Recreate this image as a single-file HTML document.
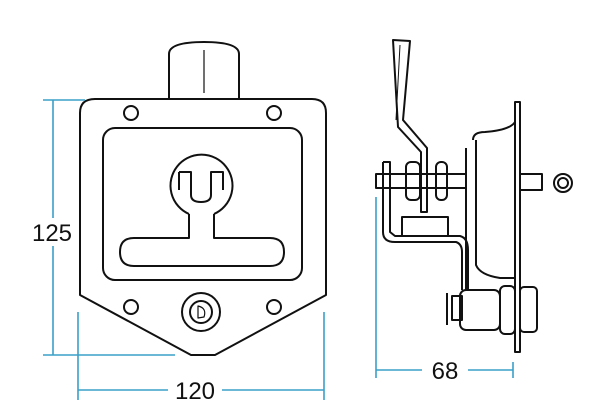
<!DOCTYPE html>
<html><head><style>html,body{margin:0;padding:0;background:#fff}svg{display:block}</style></head><body>
<svg width="600" height="408" viewBox="0 0 600 408" xmlns="http://www.w3.org/2000/svg">
<g fill="none" stroke="#111" stroke-width="2" stroke-linejoin="round">
<!-- left view -->
<path d="M169 100 V54 Q169 42 204 42 Q239 42 239 54 V100"/>
<line x1="204" y1="50" x2="204" y2="93" stroke-width="1.2"/>
<path d="M95 99 H312 Q326 99 326 113 V295 L215 355 H191 L80 295 V113 Q80 99 95 99 Z"/>
<circle cx="131" cy="113" r="7"/><circle cx="274" cy="113" r="7"/>
<circle cx="131" cy="307" r="7"/><circle cx="274" cy="307" r="7"/>
<rect x="103" y="128" width="199" height="152" rx="12"/>
<path d="M189 214 A31 31 0 1 1 214 214"/>
<path d="M179 172 H191 V195 Q191 202 201 202 Q211 202 211 195 V172 H223 V190"/>
<path d="M179 172 V190"/>
<path d="M189 214 V238 H134 Q120 238 120 252 Q120 266 134 266 H270 Q284 266 284 252 Q284 238 270 238 H214 V214"/>
<circle cx="201" cy="312" r="19"/><circle cx="201" cy="312" r="11"/>
<path d="M198 306 Q207 308 204 317 L198 318 Z" stroke-width="1.2"/>
<!-- right view -->
<rect x="515" y="102" width="5" height="250"/>
<path d="M393 40 L410 41 L403 120 L427 148 V212 H421 V152 L398 127 Z"/>
<line x1="400" y1="45" x2="396" y2="120" stroke-width="1"/>
<rect x="406" y="162" width="14" height="38" rx="5"/>
<rect x="436" y="162" width="11" height="38" rx="5"/>
<rect x="376" y="174" width="90" height="14"/>
<path d="M383 162 H390 V232 L395 236 H460 Q468 238 468 250 V290"/>
<path d="M383 162 V232 Q383 242 395 242 H456 Q462 244 462 252 V290"/>
<rect x="402" y="217" width="46" height="19"/>
<path d="M466 148 V290"/>
<path d="M473 140 Q473 132 485 132 Q510 130 515 122 V290"/>
<path d="M476 140 V265 Q480 275 500 278 H515"/>
<rect x="520" y="174" width="22" height="16"/>
<circle cx="563" cy="183" r="9"/><circle cx="563" cy="183" r="5"/>
<rect x="460" y="290" width="40" height="40" rx="6"/>
<rect x="500" y="286" width="15" height="48" rx="5"/>
<rect x="520" y="287" width="17" height="45" rx="4"/>
<path d="M452 296 H462 V320 H452 Z M447 293 V325"/>
</g>
<g stroke="#3aa0c8" stroke-width="1.6" fill="none">
<line x1="53" y1="100" x2="53" y2="218"/><line x1="53" y1="246" x2="53" y2="355"/>
<line x1="43" y1="100" x2="85" y2="100"/><line x1="43" y1="355" x2="175" y2="355"/>
<line x1="78" y1="312" x2="78" y2="400"/><line x1="324" y1="312" x2="324" y2="400"/>
<line x1="78" y1="390" x2="168" y2="390"/><line x1="222" y1="390" x2="324" y2="390"/>
<line x1="376" y1="197" x2="376" y2="378"/><line x1="513" y1="362" x2="513" y2="378"/>
<line x1="376" y1="370" x2="422" y2="370"/><line x1="468" y1="370" x2="513" y2="370"/>
</g>
<g font-family="Liberation Sans, sans-serif" font-size="24" fill="#111" text-anchor="middle">
<text x="52" y="241">125</text>
<text x="195" y="399">120</text>
<text x="445" y="379">68</text>
</g>
</svg>
</body></html>
